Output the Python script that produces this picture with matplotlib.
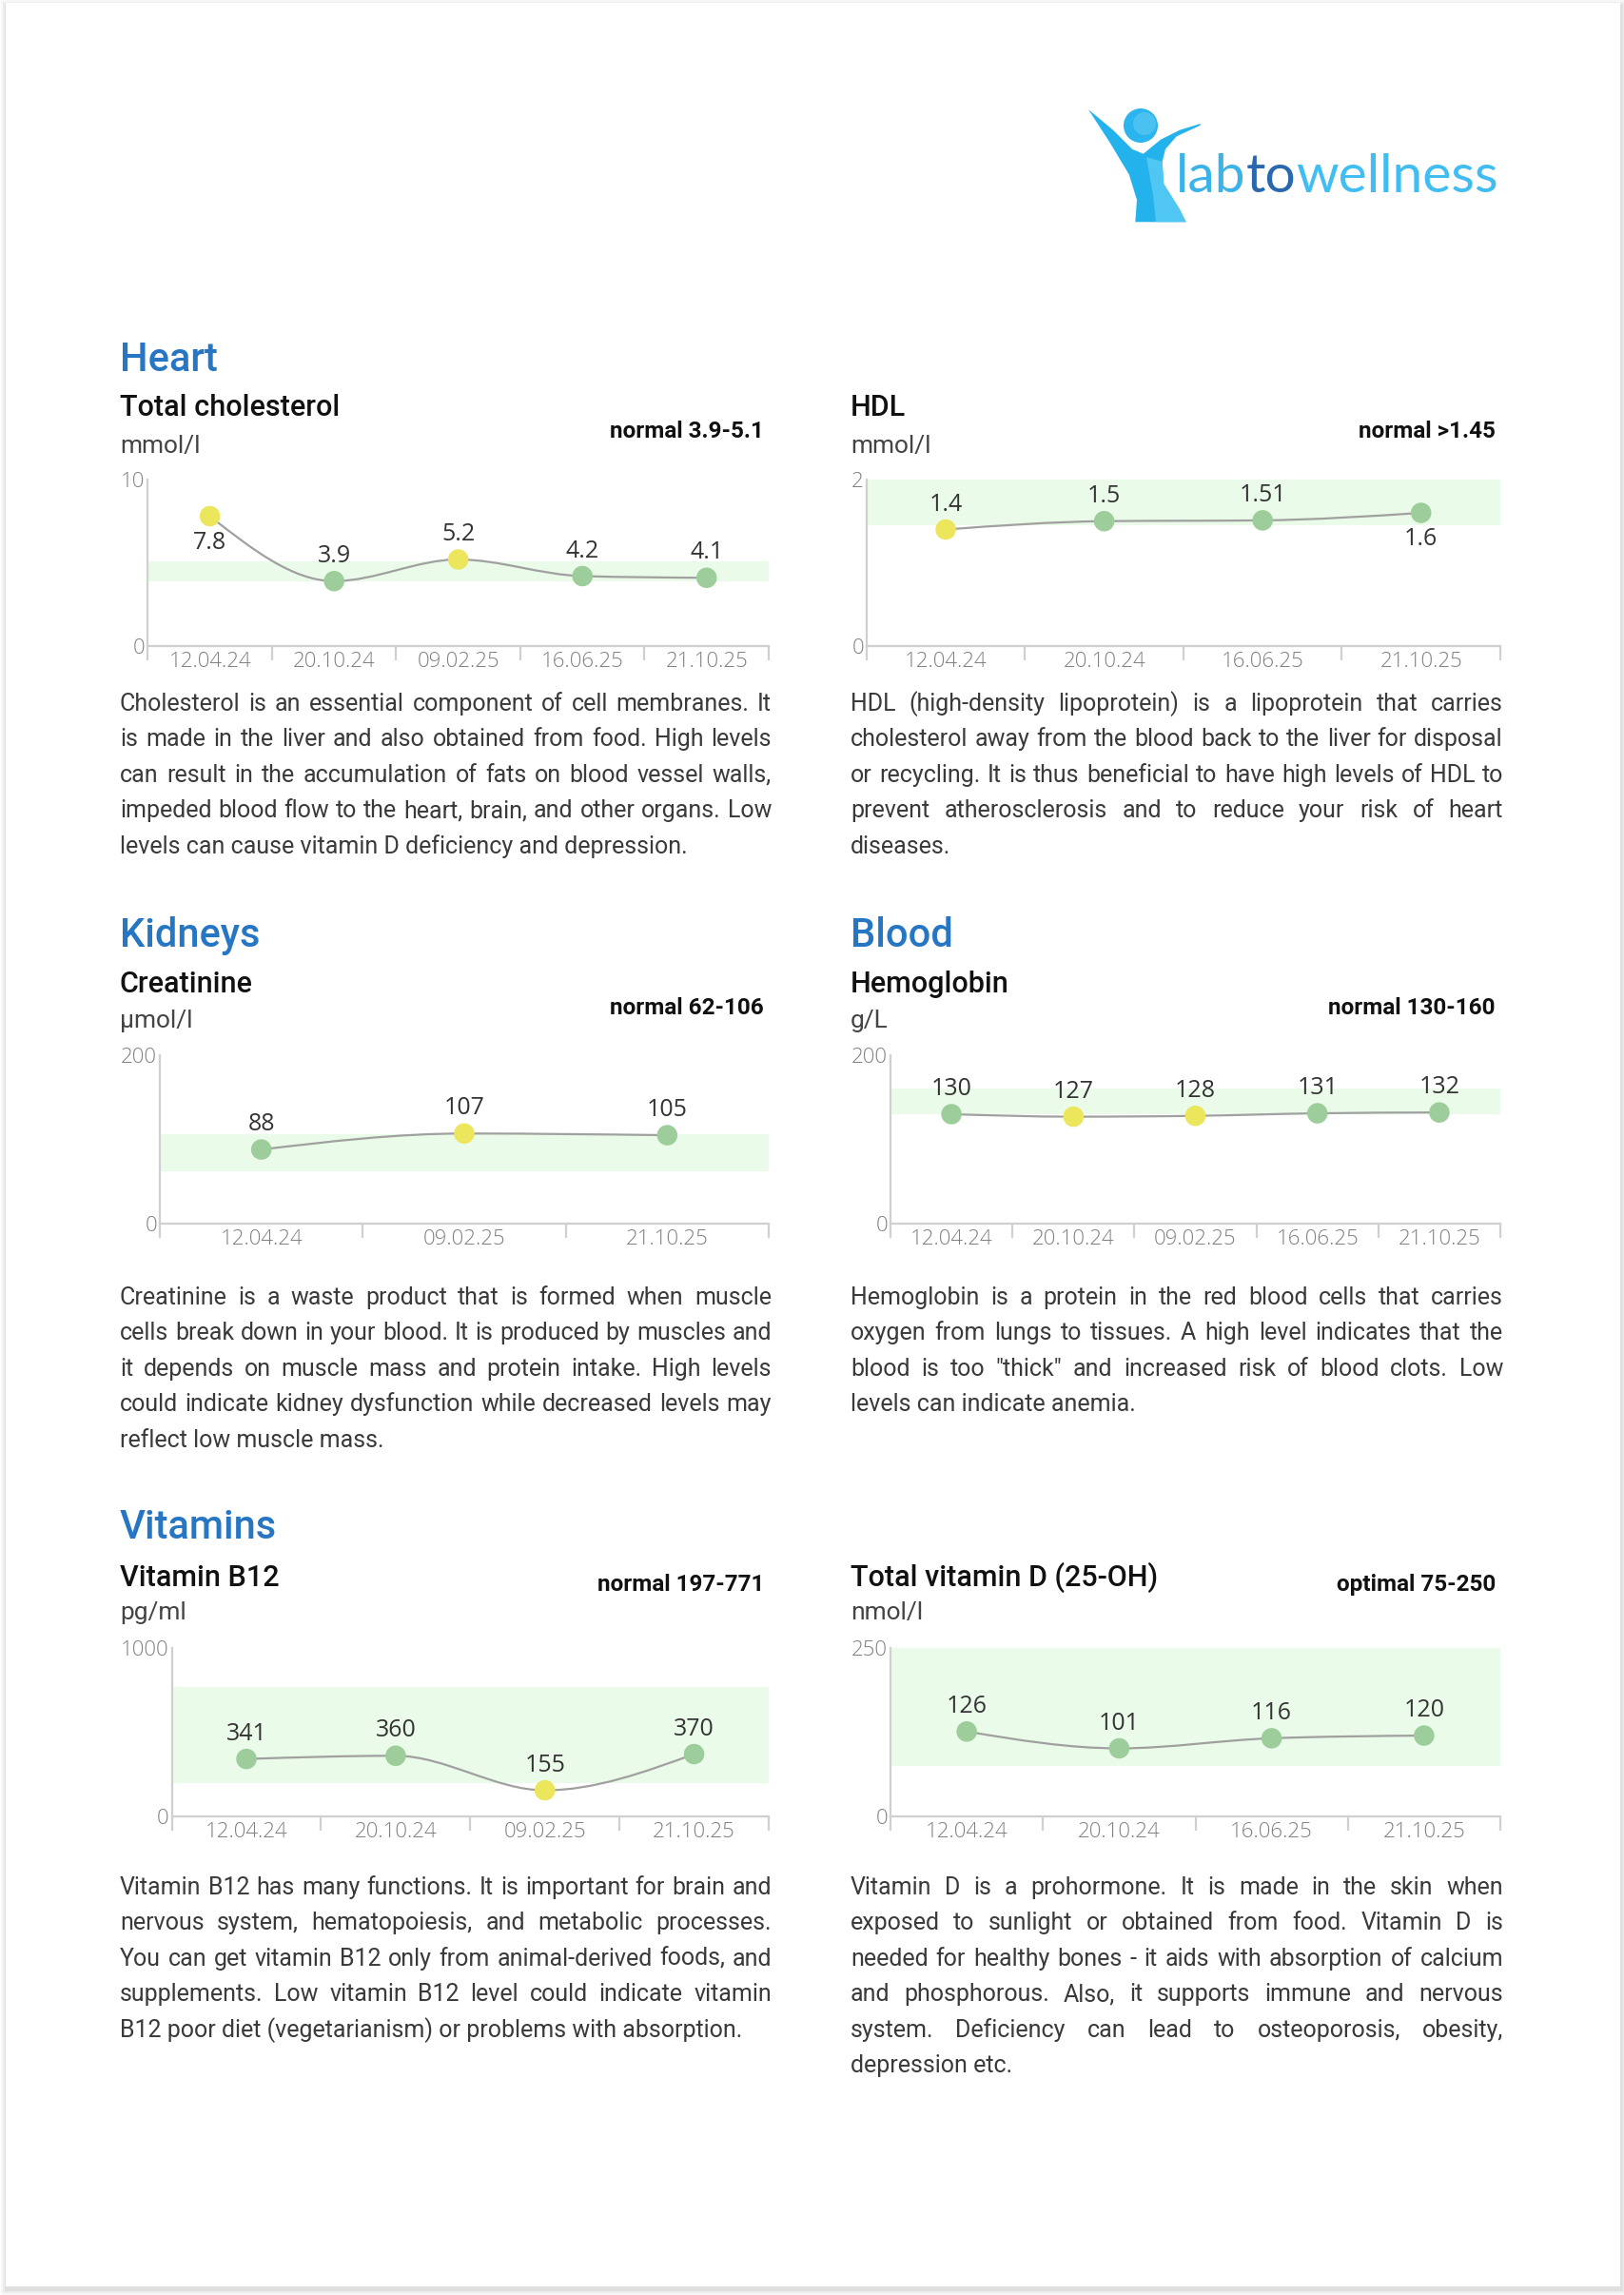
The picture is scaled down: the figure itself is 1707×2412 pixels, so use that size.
import matplotlib
matplotlib.use("Agg")
import matplotlib.pyplot as plt
from matplotlib.path import Path
from matplotlib.patches import PathPatch, Rectangle, Circle, Polygon
import numpy as np

W, H = 1708, 2412

# ---------------- data ----------------
chol_dates = ["12.04.24", "20.10.24", "09.02.25", "16.06.25", "21.10.25"]
chol_values = [7.8, 3.9, 5.2, 4.2, 4.1]
chol_range = (3.9, 5.1)
chol_ymax = 10

hdl_dates = ["12.04.24", "20.10.24", "16.06.25", "21.10.25"]
hdl_values = [1.4, 1.5, 1.51, 1.6]
hdl_range = (1.45, 2)
hdl_ymax = 2

creat_dates = ["12.04.24", "09.02.25", "21.10.25"]
creat_values = [88, 107, 105]
creat_range = (62, 106)
creat_ymax = 200

hb_dates = ["12.04.24", "20.10.24", "09.02.25", "16.06.25", "21.10.25"]
hb_values = [130, 127, 128, 131, 132]
hb_range = (130, 160)
hb_ymax = 200

b12_dates = ["12.04.24", "20.10.24", "09.02.25", "21.10.25"]
b12_values = [341, 360, 155, 370]
b12_range = (197, 771)
b12_ymax = 1000

vitd_dates = ["12.04.24", "20.10.24", "16.06.25", "21.10.25"]
vitd_values = [126, 101, 116, 120]
vitd_range = (75, 250)
vitd_ymax = 250

chol_text = [
    "Cholesterol is an essential component of cell membranes. It",
    "is made in the liver and also obtained from food. High levels",
    "can result in the accumulation of fats on blood vessel walls,",
    "impeded blood flow to the heart, brain, and other organs. Low",
    "levels can cause vitamin D deficiency and depression.",
]
hdl_text = [
    "HDL (high-density lipoprotein) is a lipoprotein that carries",
    "cholesterol away from the blood back to the liver for disposal",
    "or recycling. It is thus beneficial to have high levels of HDL to",
    "prevent atherosclerosis and to reduce your risk of heart",
    "diseases.",
]
creat_text = [
    "Creatinine is a waste product that is formed when muscle",
    "cells break down in your blood. It is produced by muscles and",
    "it depends on muscle mass and protein intake. High levels",
    "could indicate kidney dysfunction while decreased levels may",
    "reflect low muscle mass.",
]
hb_text = [
    "Hemoglobin is a protein in the red blood cells that carries",
    "oxygen from lungs to tissues. A high level indicates that the",
    "blood is too \"thick\" and increased risk of blood clots. Low",
    "levels can indicate anemia.",
]
b12_text = [
    "Vitamin B12 has many functions. It is important for brain and",
    "nervous system, hematopoiesis, and metabolic processes.",
    "You can get vitamin B12 only from animal-derived foods, and",
    "supplements. Low vitamin B12 level could indicate vitamin",
    "B12 poor diet (vegetarianism) or problems with absorption.",
]
vitd_text = [
    "Vitamin D is a prohormone. It is made in the skin when",
    "exposed to sunlight or obtained from food. Vitamin D is",
    "needed for healthy bones - it aids with absorption of calcium",
    "and phosphorous. Also, it supports immune and nervous",
    "system. Deficiency can lead to osteoporosis, obesity,",
    "depression etc.",
]

panels = [
    ("Heart", "Total cholesterol", "mmol/l", "normal 3.9-5.1", chol_dates, chol_values, chol_range, chol_ymax, chol_text),
    (None, "HDL", "mmol/l", "normal >1.45", hdl_dates, hdl_values, hdl_range, hdl_ymax, hdl_text),
    ("Kidneys", "Creatinine", "μmol/l", "normal 62-106", creat_dates, creat_values, creat_range, creat_ymax, creat_text),
    ("Blood", "Hemoglobin", "g/L", "normal 130-160", hb_dates, hb_values, hb_range, hb_ymax, hb_text),
    ("Vitamins", "Vitamin B12", "pg/ml", "normal 197-771", b12_dates, b12_values, b12_range, b12_ymax, b12_text),
    (None, "Total vitamin D (25-OH)", "nmol/l", "optimal 75-250", vitd_dates, vitd_values, vitd_range, vitd_ymax, vitd_text),
]

# ---------------- style ----------------
BLUE = "#2676c4"
GREEN = "#9dcd9a"
YELLOW = "#ebe65c"
BAND = "#ebfbe9"
AXIS = "#d0d0d0"
LINE = "#a0a0a0"
TICK = "#808080"
BODY = "#3a3a3a"

col_x = [126, 894]
col_right = [811, 1580]
chart_right = [808, 1577]
rows = [
    dict(section=390, title=437, norm=460, unit=476, top=504, bottom=679, body=747),
    dict(section=995, title=1043, norm=1066, unit=1080, top=1109, bottom=1286, body=1371),
    dict(section=1617, title=1667, norm=1672, unit=1702, top=1732, bottom=1909, body=1991),
]
LH = 37.4

fig = plt.figure(figsize=(W / 100, H / 100), dpi=100)
fig.patch.set_facecolor("white")
page = fig.add_axes([0, 0, 1, 1])
page.set_xlim(0, W)
page.set_ylim(H, 0)
page.axis("off")
renderer = fig.canvas.get_renderer()

# page with soft shadow
for d, a in [(6, 0.03), (4, 0.04), (2, 0.06)]:
    page.add_patch(Rectangle((6 - d + 1, 3 - d + 3), 1697 + 2 * d, 2400 + 2 * d,
                             facecolor="black", alpha=a, lw=0))
page.add_patch(Rectangle((6, 3), 1697, 2400, facecolor="white", lw=0))


def width_of(s, **kw):
    t = page.text(0, 0, s, **kw)
    w = t.get_window_extent(renderer).width
    t.remove()
    return w


# ---------------- logo ----------------
arm = [(1144, 115), (1166.7, 150), (1186.7, 183.3), (1195, 210), (1193.3, 233.3),
       (1246.7, 233.3), (1240, 220), (1223.3, 193.3), (1221.7, 170), (1225, 156.7),
       (1236.7, 143.3), (1261.7, 131.7), (1261.7, 130), (1240, 136.7), (1220, 146.7),
       (1201.7, 161.7), (1190, 156.7), (1170, 136.7)]
page.add_patch(Polygon(arm, closed=True, facecolor="#23b2ec", lw=0))
light = [(1205, 165), (1221.7, 170), (1223.3, 193.3), (1240, 220), (1246.7, 233.3),
         (1215, 233.3), (1212, 205)]
page.add_patch(Polygon(light, closed=True, facecolor="#5ccdf5", lw=0, alpha=0.8))
page.add_patch(Circle((1199, 132), 18, facecolor="#2cb4ee", lw=0))
page.add_patch(Circle((1203, 130), 12, facecolor="#5fcbf4", lw=0, alpha=0.6))

logo_kw = dict(family="Lato", weight="normal", fontsize=40, va="baseline", ha="left")
total = width_of("labtowellness", **logo_kw)
logo_kw["fontsize"] = 40 * 339 / total
lx = 1236
for part, c in [("lab", "#3cb3e8"), ("to", "#2a68ae"), ("wellness", "#42bdf2")]:
    page.text(lx, 202, part, color=c, **logo_kw)
    lx += width_of(part, **logo_kw)


# ---------------- helpers ----------------
def smooth_path(xs, ys):
    xs = np.asarray(xs, float)
    ys = np.asarray(ys, float)
    n = len(xs)
    h = np.diff(xs)
    s = np.diff(ys) / h
    t = np.zeros(n)
    for i in range(1, n - 1):
        p = (s[i - 1] * h[i] + s[i] * h[i - 1]) / (h[i - 1] + h[i])
        t[i] = (np.sign(s[i - 1]) + np.sign(s[i])) * min(abs(s[i - 1]), abs(s[i]), 0.5 * abs(p))
    t[0] = (3 * s[0] - t[1]) / 2
    t[-1] = (3 * s[-1] - t[-2]) / 2
    verts = [(xs[0], ys[0])]
    codes = [Path.MOVETO]
    for i in range(n - 1):
        dx = h[i] / 3
        verts += [(xs[i] + dx, ys[i] + dx * t[i]),
                  (xs[i + 1] - dx, ys[i + 1] - dx * t[i + 1]),
                  (xs[i + 1], ys[i + 1])]
        codes += [Path.CURVE4] * 3
    return Path(verts, codes)


def paragraph(lines, x, y, width, **kw):
    for i, line in enumerate(lines):
        yy = y + i * LH
        words = line.split()
        if i == len(lines) - 1 or len(words) < 2:
            page.text(x, yy, line, ha="left", va="baseline", **kw)
            continue
        ws = [width_of(w, **kw) for w in words]
        gap = (width - sum(ws)) / (len(words) - 1)
        cx = x
        for w, wd in zip(words, ws):
            page.text(cx, yy, w, ha="left", va="baseline", **kw)
            cx += wd + gap


tick_kw = dict(family="Open Sans", weight="light", fontsize=16)
body_kw = dict(family="Roboto", weight="normal", fontsize=18, color=BODY)


def chart(left, top, right, bottom, dates, values, rng, ymax):
    ax = fig.add_axes([left / W, 1 - bottom / H, (right - left) / W, (bottom - top) / H])
    ax.set_facecolor("none")
    n = len(values)
    xs = np.arange(n)
    ax.set_xlim(-0.5, n - 0.5)
    ax.set_ylim(0, ymax)
    ax.axhspan(rng[0], rng[1], color=BAND, lw=0, zorder=0)
    ax.add_patch(PathPatch(smooth_path(xs, values), facecolor="none",
                           edgecolor=LINE, lw=1.6, zorder=2))
    colors = [GREEN if rng[0] <= v <= rng[1] else YELLOW for v in values]
    ax.scatter(xs, values, s=240, c=colors, linewidths=0, zorder=3, clip_on=False)
    for x, v in zip(xs, values):
        below = v / ymax > 0.77
        ax.annotate(f"{v:g}", (x, v), xytext=(0, -20 if below else 19),
                    textcoords="offset points", ha="center", va="center",
                    family="Open Sans", fontsize=18, color="#333333", zorder=4)
    for side in ["top", "right"]:
        ax.spines[side].set_visible(False)
    for side in ["left", "bottom"]:
        ax.spines[side].set_color(AXIS)
        ax.spines[side].set_linewidth(1.6)
    ax.set_xticks(np.arange(n + 1) - 0.5)
    ax.set_xticklabels([])
    ax.tick_params(axis="x", which="major", length=11, width=1.6, color=AXIS, direction="out")
    ax.set_xticks(xs, minor=True)
    ax.set_xticklabels(dates, minor=True, **tick_kw, color=TICK)
    ax.tick_params(axis="x", which="minor", length=0, pad=4)
    ax.set_yticks([0, ymax])
    ax.set_yticklabels(["0", f"{ymax:g}"], **tick_kw, color=TICK)
    ax.tick_params(axis="y", length=0, pad=2)
    return ax


# ---------------- panels ----------------
for k, (section, title, unit, norm, dates, values, rng, ymax, text) in enumerate(panels):
    c = k % 2
    r = rows[k // 2]
    x0 = col_x[c]
    if section:
        page.text(x0, r["section"], section, family="Roboto", weight="medium",
                  fontsize=30, color=BLUE, va="baseline")
    page.text(x0, r["title"], title, family="Roboto", weight="medium",
              fontsize=22, color="#111111", va="baseline")
    page.text(chart_right[c] - 5, r["norm"], norm, family="Roboto", weight="bold",
              fontsize=17.5, color="#111111", va="baseline", ha="right")
    page.text(x0, r["unit"], unit, family="Roboto", weight="normal",
              fontsize=19, color="#444444", va="baseline")
    left = x0 + width_of(f"{ymax:g}", **tick_kw) + 4
    chart(left, r["top"], chart_right[c], r["bottom"], dates, values, rng, ymax)
    paragraph(text, x0, r["body"], col_right[c] - x0, **body_kw)

fig.savefig("out.png", dpi=100, facecolor="white")
